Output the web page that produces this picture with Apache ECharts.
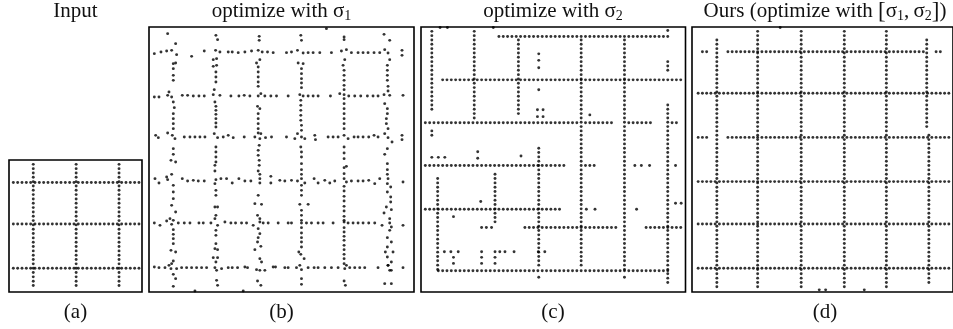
<!DOCTYPE html>
<html><head><meta charset="utf-8">
<script src="https://cdn.jsdelivr.net/npm/echarts@6/dist/echarts.min.js"></script>
<style>html,body{margin:0;padding:0;background:#fff}#c{width:953px;height:329px}</style>
</head><body><div id="c"></div>
<script>
// ---------- text ----------
const panelTitles = ['Input', 'optimize with σ{s|1}', 'optimize with σ{s|2}', 'Ours (optimize with {b|[}σ{s|1},\u2009σ{s|2}{b|]})'];
const panelLabels = ['(a)', '(b)', '(c)', '(d)'];

// ---------- panel (a): input grid, dot runs on a lattice [line, from, to] ----------
const aRowRuns = [[5.2, 1, 30], [14.8, 1, 30], [25.0, 1, 30]];
const aColRuns = [[5.6, 1, 29], [15.5, 1, 29], [25.4, 1, 29]];

// ---------- panel (b): optimize with sigma1, dots ----------
const bDotsUpper = [
[68,100],[92,130],[213,105],[218,118],[343,108],[343,120],[468,105],[470,120],[598,110],[598,118],[718,102],[735,120],[545,85],
[28,160],[48,155],[65,152],[80,150],[95,163],[140,168],[178,152],[212,150],[225,155],[250,155],[262,155],[280,157],[300,155],[320,152],[340,150],[352,155],[368,155],[385,157],[425,157],[440,155],[458,150],[475,158],[490,157],[505,157],[525,157],[560,157],[590,152],[605,148],[620,157],[640,157],[655,157],[670,157],[688,157],[705,157],[720,148],[730,158],[772,150],[772,165],
[85,190],[92,188],[85,205],[85,225],[85,240],[72,275],[205,178],[215,175],[205,198],[215,195],[213,215],[213,230],[213,245],[208,268],[345,178],[335,188],[340,200],[340,215],[340,230],[340,245],[340,258],[460,188],[475,190],[470,205],[470,220],[470,235],[470,248],[470,262],[600,178],[595,195],[598,210],[598,225],[598,240],[598,255],[598,268],[735,178],[728,195],[728,210],[728,225],[728,240],[730,258],[730,272],
[28,290],[42,290],[68,285],[80,290],[112,285],[128,285],[145,287],[162,287],[178,287],[205,283],[225,285],[258,287],[282,287],[298,285],[315,287],[340,287],[348,280],[360,287],[378,287],[395,287],[430,287],[465,283],[475,287],[490,287],[505,287],[520,287],[557,287],[585,280],[598,283],[612,287],[630,287],[648,287],[668,287],[685,287],[700,287],[718,283],[735,285],[775,285],
[85,305],[88,322],[85,340],[85,355],[85,370],[85,385],[210,305],[213,318],[213,330],[213,342],[213,355],[213,368],[213,380],[338,318],[345,325],[340,340],[340,355],[340,370],[340,385],[340,398],[468,300],[468,315],[468,330],[468,345],[468,360],[470,375],[470,390],[598,295],[598,310],[598,325],[598,340],[598,355],[598,370],[598,385],[720,310],[728,325],[728,340],[725,355],[725,370],[730,385],
[32,405],[40,412],[68,398],[82,405],[90,415],[118,410],[135,410],[150,410],[165,410],[180,410],[208,400],[218,412],[235,410],[250,405],[265,412],[298,410],[330,410],[345,415],[348,400],[362,412],[380,410],[425,410],[450,415],[458,400],[470,410],[480,415],[510,405],[512,418],[550,410],[565,410],[580,410],[598,405],[610,415],[628,410],[640,410],[655,410],[672,410],[688,405],[700,410],[720,400],[730,412],[742,425],[772,405],[772,418],
[85,445],[85,462],[213,440],[213,455],[213,470],[343,435],[340,450],[340,465],[468,440],[470,455],[470,470],[598,440],[598,458],[598,475],[728,445],[720,462]
];
const bDotsLower = [
[78,480],[92,485],[210,495],[210,512],[213,485],[343,480],[343,495],[340,512],[345,522],[470,490],[470,508],[470,522],[598,502],[605,498],[598,520],[728,490],[728,508],[728,522],
[30,535],[42,548],[65,530],[80,522],[68,538],[112,535],[128,542],[145,540],[160,542],[178,542],[210,550],[213,538],[228,535],[245,535],[262,548],[282,535],[300,542],[318,542],[345,535],[345,548],[378,528],[378,548],[405,540],[420,542],[440,540],[458,542],[470,535],[480,548],[508,535],[520,548],[540,540],[555,548],[570,542],[598,535],[605,545],[620,542],[640,542],[655,542],[672,540],[690,550],[705,535],[728,550],[730,535],[775,545],
[85,555],[85,575],[85,595],[80,615],[92,635],[75,655],[213,570],[213,585],[210,620],[218,620],[213,645],[210,655],[340,585],[330,610],[350,612],[338,645],[345,655],[470,555],[470,570],[470,585],[465,612],[490,612],[470,630],[470,645],[470,660],[598,558],[598,572],[598,588],[598,602],[598,618],[598,632],[598,648],[598,660],[738,560],[728,575],[738,590],[738,605],[725,620],[740,628],[718,638],[735,655],
[28,668],[45,675],[65,662],[80,672],[85,660],[100,668],[118,668],[135,668],[162,668],[175,668],[198,668],[218,675],[240,665],[258,668],[272,668],[290,668],[305,668],[325,675],[345,665],[355,668],[370,668],[400,668],[430,668],[440,668],[470,668],[485,668],[500,668],[520,668],[535,668],[565,668],[598,665],[610,668],[625,668],[640,668],[655,668],[672,668],[690,668],[712,675],[735,668],[740,680],[775,675],
[85,688],[85,702],[85,715],[85,730],[78,750],[92,755],[85,782],[80,790],[213,690],[213,705],[213,730],[210,745],[218,748],[205,772],[218,772],[213,785],[340,685],[345,700],[340,712],[338,725],[348,738],[330,748],[345,775],[350,785],[470,682],[470,698],[470,712],[470,725],[470,740],[462,755],[468,762],[478,775],[598,682],[598,695],[598,708],[598,720],[598,735],[598,748],[598,762],[598,775],[598,790],[735,690],[728,712],[740,725],[728,740],[722,755],[745,755],[728,770],[740,785],[730,795],
[28,800],[42,802],[60,802],[72,795],[78,805],[95,805],[110,802],[125,802],[140,802],[155,802],[170,802],[185,802],[210,802],[215,810],[230,805],[250,802],[262,802],[278,802],[300,800],[308,802],[335,808],[345,810],[360,810],[385,800],[392,800],[420,802],[430,802],[455,802],[465,795],[470,808],[490,802],[508,802],[520,802],[540,802],[560,802],[580,802],[600,805],[605,795],[615,802],[630,802],[645,802],[660,802],[700,802],[730,795],[735,810],[740,810],[775,802],
[85,822],[92,835],[85,858],[215,840],[218,855],[338,842],[348,855],[470,835],[470,852],[598,842],[602,855],[720,850],[740,850],[150,872],[295,872]
];

// ---------- panel (c): optimize with sigma2, lattice runs ----------
const cRowRuns = [
[2.2,18,57],[12.2,5,60],
[22.1,1,36],[22.1,38,44],[22.1,48,53],[22.1,58,59],
[32.0,1,33],[32.0,38,40],
[42.1,1,32],
[46.3,24,45],[46.3,52,60],
[56.3,4,57]
];
const cColRuns = [
[2.5,1,19],[2.5,24,25],[12.3,1,21],[22.5,3,20],[27.2,28,55],
[37,3,55],[47,3,56],[57,8,10],[57,18,59],[17.1,34,45],[3.85,35,56]
];
const cLoose = [
[4.4,0.1],[6.1,0.1],[16.7,0.1],[57,0.8],
[27.2,6.2],[27.2,7.7],[27.2,9.4],[27.2,14.5],
[26.9,19.1],[28.2,19.1],[26.9,20.7],[28.2,20.7],[39,20.3],
[2.5,30.1],[4,30.1],[5.5,30.1],[13.1,28.8],[13.1,30.3],[23.1,29.8],
[49.4,32],[50.9,32],[52.8,32],[58.8,32],
[13.8,40.3],[38.2,42.1],[40.2,42.1],[49.8,42.1],[58.8,40.7],[60.1,40.7],
[7.5,43.8],[14,46.3],[15.1,46.3],[16.3,46.3],
[5.4,51.9],[6.9,51.9],[8.6,51.9],[14,51.9],[17.1,51.9],[18.2,51.9],[19.4,51.9],[21.5,51.9],[27.1,51.9],[28.6,51.9],
[7.5,53.2],[7.5,54.6],[14,53.2],[14,54.6],[17.1,53.2],[17.1,54.6],
[27.2,57.8],[47,57.8]
];

// ---------- panel (d): ours, lattice runs ----------
const dRowRuns = [
[5.7,2,3],[5.7,8,54],[5.7,57,58],
[15.3,1,60],
[25.5,1,3],[25.5,8,60],
[35.7,1,60],[45.5,1,60],[55.7,1,60]
];
const dColRuns = [
[5.4,3,60],[15.0,1,60],[25.25,1,60],[35.4,1,60],[45.3,1,60],[54.8,3,23],[55.3,25,59]
];
const dLoose = [[20.3,0.1],[29.5,60.7],[31.0,60.7],[40.1,60.7]];

// ---------- build ----------
function latticeDots(rowRuns, colRuns, loose) {
  const pts = [];
  rowRuns.forEach(([y, a, b]) => { for (let x = a; x <= b; x++) pts.push([x, y]); });
  colRuns.forEach(([x, a, b]) => { for (let y = a; y <= b; y++) pts.push([x, y]); });
  (loose || []).forEach(p => pts.push(p));
  return pts;
}
const panelData = [
  latticeDots(aRowRuns, aColRuns, []),
  bDotsUpper.concat(bDotsLower),
  latticeDots(cRowRuns, cColRuns, cLoose),
  latticeDots(dRowRuns, dColRuns, dLoose)
];

const frames = [
  {left: 9, top: 160, width: 133, height: 132},
  {left: 149, top: 27, width: 265, height: 265},
  {left: 421, top: 27, width: 264.5, height: 265},
  {left: 692, top: 27, width: 266, height: 265}
];
const ranges = [
  {x: [0, 30.7], y: [0, 30.5]},
  {x: [12, 808], y: [80, 875]},
  {x: [0, 61.1], y: [0, 61.2]},
  {x: [-0.45, 60.98], y: [0, 61.2]}
];
const centers = [75.5, 281.5, 553, 825];

const FONT = 'Liberation Serif';
const richStyles = {
  s: {fontSize: 14, fontFamily: FONT, fill: '#111', verticalAlign: 'bottom', lineHeight: 14},
  b: {fontSize: 23, fontFamily: FONT, fill: '#111', lineHeight: 24}
};

const chart = echarts.init(document.getElementById('c'), null, {renderer: 'canvas'});
chart.setOption({
  animation: false,
  backgroundColor: '#fff',
  grid: frames.map(f => Object.assign({show: true, borderColor: '#000', borderWidth: 1.6, backgroundColor: 'transparent'}, f)),
  xAxis: ranges.map((r, i) => ({type: 'value', gridIndex: i, min: r.x[0], max: r.x[1], show: false})),
  yAxis: ranges.map((r, i) => ({type: 'value', gridIndex: i, min: r.y[0], max: r.y[1], inverse: true, show: false})),
  series: panelData.map((d, i) => ({
    type: 'scatter', xAxisIndex: i, yAxisIndex: i, data: d,
    symbol: 'circle', symbolSize: 2.9, silent: true,
    itemStyle: {color: '#000'}
  })),
  graphic: panelTitles.map((t, i) => ({
    type: 'text', x: centers[i], y: 11.5, silent: true,
    style: {text: t, fontSize: 21, fontFamily: FONT, fill: '#111', lineHeight: 24,
            align: 'center', verticalAlign: 'middle', rich: richStyles}
  })).concat(panelLabels.map((t, i) => ({
    type: 'text', x: centers[i], y: 312.5, silent: true,
    style: {text: t, fontSize: 21, fontFamily: FONT, fill: '#111',
            align: 'center', verticalAlign: 'middle'}
  })))
});
</script>
</body></html>
